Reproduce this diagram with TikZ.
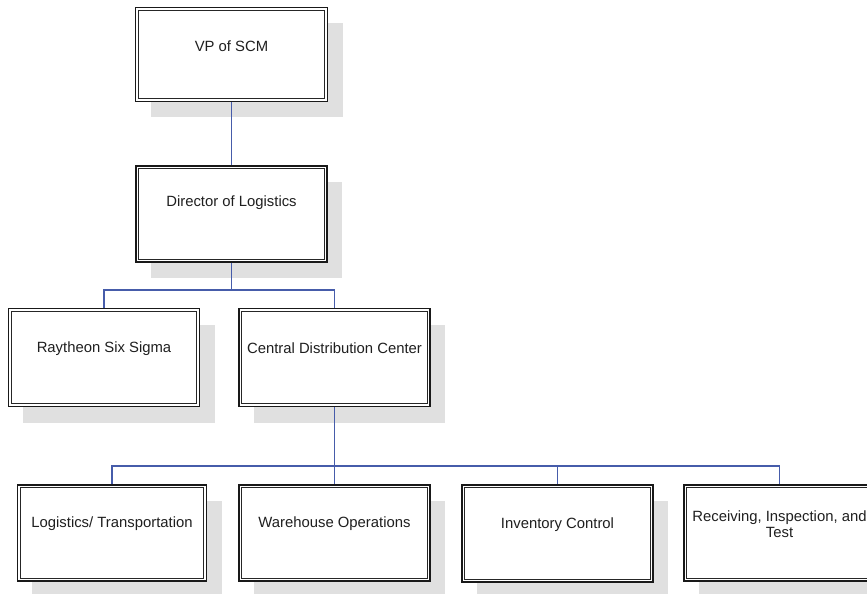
\documentclass[tikz,border=0pt]{standalone}
\usepackage{fontspec}
\setmainfont{Liberation Sans}
\usetikzlibrary{shadows}
\definecolor{linkblue}{RGB}{70,92,170}
\definecolor{shadegray}{RGB}{224,224,224}
\begin{document}
\begin{tikzpicture}[x=1bp,y=-1bp,
  orgbox/.style={draw=black!90, fill=white, line width=1.7bp,
    minimum width=191bp, minimum height=96bp, inner sep=0pt,
    drop shadow={shadow xshift=15bp, shadow yshift=-16bp, fill=shadegray, opacity=1}},
  inner frame/.style={draw=black!85, line width=0.9bp},
  lbl/.style={font=\fontsize{14.9}{16.5}\selectfont, text=black!88, align=center, inner sep=0pt},
  link/.style={draw=linkblue, line width=1.4bp}]
\useasboundingbox (0,0) rectangle (867,594);
\clip (0,0) rectangle (867,594);

% boxes
\node[orgbox, minimum width=192bp, minimum height=94bp] (vp)  at (231.5,54.5) {};
\node[orgbox] (dir) at (231.5,214) {};
\node[orgbox, minimum height=98bp] (ray) at (104,357.5) {};
\node[orgbox, minimum height=98bp] (cdc) at (334.5,357.5) {};
\node[orgbox, minimum width=189bp] (log) at (112,533) {};
\node[orgbox] (wh)  at (334.5,533) {};
\node[orgbox, minimum height=97bp] (inv) at (557.5,533.5) {};
\node[orgbox] (rec) at (779.5,533) {};

% inner line of each double frame
\foreach \n in {vp,dir,ray,cdc,log,wh,inv,rec}
  \draw[inner frame] ([xshift=3.6bp,yshift=-3.6bp]\n.north west)
    rectangle ([xshift=-3.6bp,yshift=3.6bp]\n.south east);

% labels, set a little above the middle of each box
\node[lbl] (tvp)  at ([yshift=8bp]vp.center)  {VP of SCM};
\node[lbl] (tdir) at ([yshift=11bp]dir.center) {Director of Logistics};
\node[lbl] (tray) at ([yshift=9bp]ray.center) {Raytheon Six Sigma};
\node[lbl] (tcdc) at ([yshift=9bp]cdc.center) {Central Distribution Center};
\node[lbl] (tlog) at ([yshift=9bp]log.center) {Logistics/ Transportation};
\node[lbl] (twh)  at ([yshift=9bp]wh.center)  {Warehouse Operations};
\node[lbl] (tinv) at ([yshift=9bp]inv.center) {Inventory Control};
\node[lbl] (trec) at ([yshift=9bp]rec.center) {Receiving, Inspection, and\\Test};

% connectors
\coordinate (j1) at (231.5,290);
\coordinate (j2) at (334.5,466);
\draw[link] (vp.south) -- (dir.north);
\draw[link] (dir.south) -- (j1);
\draw[link] (ray.north) |- (j1) -| (cdc.north);
\draw[link] (cdc.south) -- (wh.north);
\draw[link] (log.north) |- (j2) -| (rec.north);
\draw[link] (inv.north) -- (inv.north |- j2);
\end{tikzpicture}
\end{document}
